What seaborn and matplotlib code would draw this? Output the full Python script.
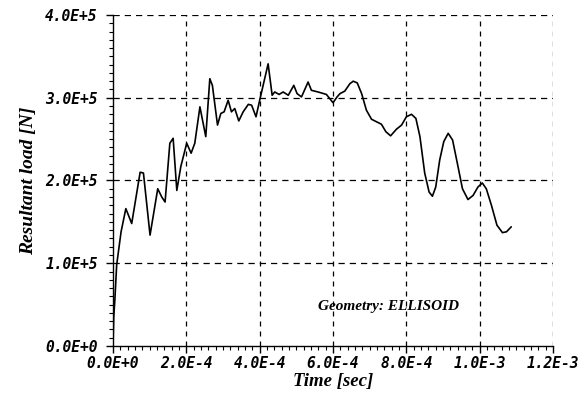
import matplotlib
matplotlib.use("Agg")
import matplotlib.pyplot as plt
import seaborn as sns
import pandas as pd
from matplotlib.ticker import FixedLocator, MultipleLocator

# time in units of 1e-4 s, load in units of 1e5 N
time_e4 = [0.0, 0.02, 0.05, 0.1, 0.22, 0.35, 0.51, 0.74, 0.83, 1.01, 1.22, 1.33, 1.42,
           1.55, 1.64, 1.74, 1.85, 2.01, 2.13, 2.23, 2.37, 2.53, 2.64, 2.71, 2.85, 2.94,
           3.03, 3.14, 3.23, 3.32, 3.43, 3.55, 3.69, 3.78, 3.90, 4.00, 4.23, 4.34, 4.41,
           4.53, 4.64, 4.78, 4.93, 5.02, 5.14, 5.32, 5.41, 5.59, 5.82, 5.91, 6.00, 6.11,
           6.19, 6.32, 6.46, 6.55, 6.66, 6.78, 6.91, 7.05, 7.32, 7.44, 7.57, 7.73, 7.87,
           8.00, 8.14, 8.26, 8.37, 8.50, 8.62, 8.71, 8.80, 8.91, 9.02, 9.14, 9.26, 9.38,
           9.53, 9.68, 9.82, 9.95, 10.07, 10.18, 10.32, 10.47, 10.62, 10.73, 10.86]
load_e5 = [0.0, 0.35, 0.55, 0.98, 1.38, 1.66, 1.48, 2.10, 2.09, 1.34, 1.90, 1.80, 1.74,
           2.45, 2.51, 1.88, 2.17, 2.45, 2.33, 2.45, 2.89, 2.53, 3.23, 3.15, 2.67, 2.81,
           2.83, 2.97, 2.83, 2.87, 2.72, 2.83, 2.92, 2.91, 2.77, 2.97, 3.41, 3.03, 3.07,
           3.04, 3.07, 3.03, 3.15, 3.05, 3.01, 3.19, 3.09, 3.07, 3.04, 2.99, 2.94, 3.01,
           3.05, 3.08, 3.17, 3.20, 3.18, 3.05, 2.85, 2.74, 2.68, 2.59, 2.54, 2.62, 2.67,
           2.77, 2.80, 2.75, 2.53, 2.09, 1.86, 1.81, 1.92, 2.25, 2.47, 2.57, 2.49, 2.23,
           1.90, 1.77, 1.82, 1.92, 1.97, 1.90, 1.70, 1.46, 1.37, 1.38, 1.44]

x_ticks = [0.0, 2.0e-4, 4.0e-4, 6.0e-4, 8.0e-4, 1.0e-3, 1.2e-3]
x_tick_labels = ["0.0E+0", "2.0E-4", "4.0E-4", "6.0E-4", "8.0E-4", "1.0E-3", "1.2E-3"]
y_ticks = [0.0, 1.0e5, 2.0e5, 3.0e5, 4.0e5]
y_tick_labels = ["0.0E+0", "1.0E+5", "2.0E+5", "3.0E+5", "4.0E+5"]

x_label = "Time [sec]"
y_label = "Resultant load [N]"
annotation = "Geometry: ELLISOID"

df = pd.DataFrame({"time": [t * 1e-4 for t in time_e4],
                   "load": [v * 1e5 for v in load_e5]})

sns.set_style("white")
plt.rcParams["font.family"] = ["Liberation Serif", "DejaVu Serif"]
plt.rcParams["text.color"] = "black"
plt.rcParams["axes.labelcolor"] = "black"

fig = plt.figure(figsize=(5.84, 3.96), dpi=100)
ax = fig.add_axes([0.1935, 0.1263, 0.7535, 0.8358])

sns.lineplot(data=df, x="time", y="load", ax=ax, color="black", linewidth=1.2,
             sort=False, estimator=None)

ax.set_xlim(0, 1.2e-3)
ax.set_ylim(0, 4.0e5)

# dashed grid incl. the top and right border lines
for xv in x_ticks[1:]:
    ax.axvline(xv, color="black", linestyle=(0, (4, 4)), linewidth=0.9, zorder=0)
for yv in y_ticks[1:]:
    ax.axhline(yv, color="black", linestyle=(0, (5, 4)), linewidth=0.9, zorder=0)

for s in ["top", "right"]:
    ax.spines[s].set_visible(False)
for s in ["left", "bottom"]:
    ax.spines[s].set_color("black")
    ax.spines[s].set_linewidth(1.0)

ax.xaxis.set_major_locator(FixedLocator(x_ticks))
ax.yaxis.set_major_locator(FixedLocator(y_ticks))
ax.xaxis.set_minor_locator(MultipleLocator(2e-5))
ax.yaxis.set_minor_locator(MultipleLocator(1e4))

tick_font = dict(family="DejaVu Sans Mono", weight="bold", style="oblique", size=10.5)
ax.set_xticklabels(x_tick_labels, fontdict=tick_font)
ax.set_yticklabels(y_tick_labels, fontdict=tick_font)

ax.tick_params(axis="both", which="both", bottom=True, left=True, top=False, right=False)
ax.tick_params(axis="both", which="major", direction="out", length=5, width=1.0,
               color="black", labelcolor="black")
ax.tick_params(axis="both", which="minor", direction="out", length=3, width=0.8,
               color="black")
ax.tick_params(axis="x", which="major", pad=2)
ax.tick_params(axis="y", which="major", pad=6)

ax.set_xlabel(x_label, fontsize=13.5, fontweight="bold", fontstyle="italic",
              labelpad=2, color="black")
ax.set_ylabel(y_label, fontsize=14, fontweight="bold", fontstyle="italic",
              labelpad=6, color="black")

ax.text(0.625, 0.12, annotation, transform=ax.transAxes, ha="center", va="center",
        fontsize=11, fontweight="bold", fontstyle="italic", color="black")

fig.savefig("out.png", dpi=100, facecolor="white")
